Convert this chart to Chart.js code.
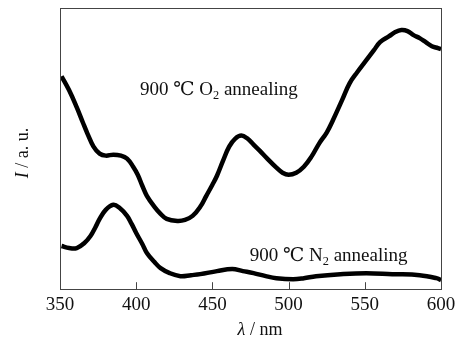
<!DOCTYPE html>
<html>
<head>
<meta charset="utf-8">
<script src="https://cdn.jsdelivr.net/npm/chart.js@4/dist/chart.umd.min.js"></script>
<style>
html,body{margin:0;padding:0;background:#fff;}
#wrap{width:466px;height:350px;position:relative;}
</style>
</head>
<body>
<div id="wrap"><canvas id="c" width="466" height="350"></canvas></div>
<script>
const xTicks = [350, 400, 450, 500, 550, 600];

const o2Wavelength = [351,356,361,365,368,372,376,380,385,390,394,398,401,404,407,412,416,420,427,432,437,442,446,450,453,457,461,465,469,473,477,481,486,492,496,500,505,510,515,520,525,529,535,540,545,551,556,560,566,570,574,578,582,586,590,594,598,600];
const o2Intensity  = [212,198,181,166,155,142,135,133,134,133,130,122,114,103,93,82,75,70,68,69,73,82,93,104,113,128,142,150,153,150,144,138,130,121,116,114,116,122,132,145,156,168,188,205,216,228,238,246,252,256,258,257,253,250,246,242,240,239];

const n2Wavelength = [351,356,361,366,370,373,376,380,385,389,394,397,400,404,407,412,416,422,429,436,442,453,463,470,477,485,492,503,510,518,534,551,568,586,597,600];
const n2Intensity  = [43,41,41,46,53,61,70,79,84,81,73,65,56,45,36,27,21,16,13,14,15,18,20,18,16,13,11,10,11,13,15,16,15,14,11,9];

const labels = [
  {x: 402.5, y: 198, parts: [["900 ℃ O"], ["2", "sub"], [" annealing"]]},
  {x: 474.5, y: 33, parts: [["900 ℃ N"], ["2", "sub"], [" annealing"]]}
];

const SERIF = '"Liberation Serif", "DejaVu Serif", "Times New Roman", serif';

function toPoints(xs, ys){ return xs.map((x,i)=>({x:x, y:ys[i]})); }

function drawParts(ctx, parts, x, y, size){
  let cx = x;
  ctx.textBaseline = 'middle';
  ctx.textAlign = 'left';
  for (const p of parts){
    if (p[1] === 'sub'){
      ctx.font = (size*0.65) + 'px ' + SERIF;
      ctx.fillText(p[0], cx, y + size*0.28);
    } else if (p[1] === 'it'){
      ctx.font = 'italic ' + size + 'px ' + SERIF;
      ctx.fillText(p[0], cx, y);
    } else {
      ctx.font = size + 'px ' + SERIF;
      ctx.fillText(p[0], cx, y);
    }
    cx += ctx.measureText(p[0]).width;
  }
  return cx - x;
}
function measureParts(ctx, parts, size){
  let w = 0;
  for (const p of parts){
    if (p[1] === 'sub') ctx.font = (size*0.65) + 'px ' + SERIF;
    else if (p[1] === 'it') ctx.font = 'italic ' + size + 'px ' + SERIF;
    else ctx.font = size + 'px ' + SERIF;
    w += ctx.measureText(p[0]).width;
  }
  return w;
}

const decor = {
  id: 'decor',
  afterDraw(chart){
    const ctx = chart.ctx;
    const a = chart.chartArea;
    const xs = chart.scales.x, ys = chart.scales.y;
    ctx.save();
    // frame
    ctx.strokeStyle = '#444';
    ctx.lineWidth = 1;
    ctx.strokeRect(Math.round(a.left)+0.5, Math.round(a.top)+0.5, Math.round(a.right-a.left), Math.round(a.bottom-a.top));
    // inward ticks
    ctx.beginPath();
    for (const v of xTicks){
      const px = Math.round(xs.getPixelForValue(v)) + 0.5;
      ctx.moveTo(px, a.bottom);
      ctx.lineTo(px, a.bottom - 7);
    }
    ctx.stroke();
    // annotations
    ctx.fillStyle = '#111';
    for (const l of labels){
      drawParts(ctx, l.parts, xs.getPixelForValue(l.x), ys.getPixelForValue(l.y), 19);
    }
    // x title
    const xt = [["λ", "it"], [" / nm"]];
    const wx = measureParts(ctx, xt, 18);
    drawParts(ctx, xt, 260 - wx/2, 330, 18);
    // y title
    ctx.translate(23, 153);
    ctx.rotate(-Math.PI/2);
    const yt = [["I", "it"], [" / a. u."]];
    const wy = measureParts(ctx, yt, 18);
    drawParts(ctx, yt, -wy/2, 0, 18);
    ctx.restore();
  }
};

new Chart(document.getElementById('c'), {
  type: 'line',
  data: {
    datasets: [
      {data: toPoints(o2Wavelength, o2Intensity), borderColor: '#000', borderWidth: 4.5, pointRadius: 0, tension: 0.4, fill: false},
      {data: toPoints(n2Wavelength, n2Intensity), borderColor: '#000', borderWidth: 4.5, pointRadius: 0, tension: 0.4, fill: false}
    ]
  },
  options: {
    responsive: false,
    animation: false,
    layout: {padding: {left: 60, right: 25, top: 8, bottom: 30}},
    plugins: {legend: {display: false}, tooltip: {enabled: false}},
    scales: {
      x: {
        type: 'linear', min: 350, max: 600,
        afterBuildTicks(scale){ scale.ticks = xTicks.map(v => ({value: v})); },
        ticks: {color: '#111', font: {family: SERIF, size: 19}, padding: 4, maxRotation: 0},
        grid: {display: false, drawTicks: false},
        border: {display: false}
      },
      y: {
        display: false, min: 0, max: 280
      }
    }
  },
  plugins: [decor]
});
</script>
</body>
</html>
